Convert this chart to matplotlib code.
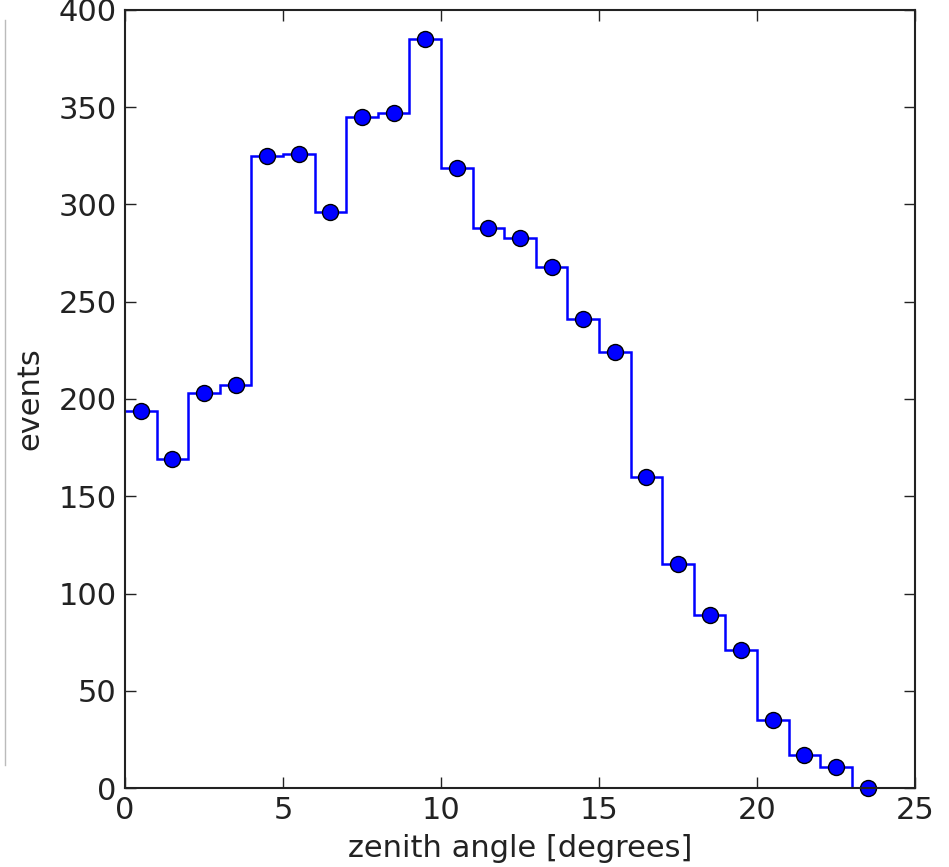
import numpy as np
import matplotlib
matplotlib.use("Agg")
from matplotlib import pyplot as plt
from matplotlib.lines import Line2D

# zenith angle histogram, 1 degree bins
bin_edges = np.arange(0, 25, 1)
bin_centers = np.arange(0.5, 24, 1)
counts = [194, 169, 203, 207, 325, 326, 296, 345, 347, 385, 319, 288,
          283, 268, 241, 224, 160, 115, 89, 71, 35, 17, 11, 0]

fig = plt.figure(figsize=(9.49, 8.67), dpi=100)
ax = fig.add_axes([0.1317, 0.0911, 0.8325, 0.8974])

ax.stairs(counts, bin_edges, color="blue", linewidth=1.8, baseline=None)
ax.plot(bin_centers, counts, "o", color="blue", markeredgecolor="black",
        markeredgewidth=1, markersize=11.5, clip_on=False)

ax.set_xlim(0, 25)
ax.set_ylim(0, 400)
ax.set_xticks([0, 5, 10, 15, 20, 25])
ax.set_yticks(range(0, 401, 50))
ax.tick_params(direction="in", top=True, right=True, length=8, width=1,
               labelsize=22, pad=6, colors="#222222")
for s in ax.spines.values():
    s.set_linewidth(1.5)
    s.set_color("#222222")

ax.set_xlabel("zenith angle [degrees]", fontsize=22, color="#222222", labelpad=6)
ax.set_ylabel("events", fontsize=22, color="#222222", labelpad=10)

# thin grey line at the left border of the screenshot
fig.add_artist(Line2D([0.005, 0.005], [0.118, 0.977], color="#bbbbbb", lw=1))

fig.savefig("out.png", dpi=100)
